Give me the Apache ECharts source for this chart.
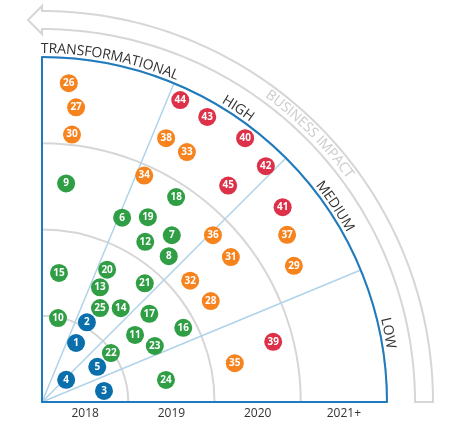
<!DOCTYPE html>
<html><head><meta charset="utf-8">
<script src="https://cdn.jsdelivr.net/npm/echarts@6/dist/echarts.min.js"></script>
<style>html,body{margin:0;padding:0;background:#fff}#c{width:461px;height:435px}</style>
</head><body><div id="c"></div>
<script>
// ---- data ----
const yearLabels = ['2018', '2019', '2020', '2021+'];
const impactLabels = ['LOW', 'MEDIUM', 'HIGH', 'TRANSFORMATIONAL'];
const outerTitle = 'BUSINESS IMPACT';
const pointIds = [1,2,3,4,5,6,7,8,9,10,11,12,13,14,15,16,17,18,19,20,21,22,23,24,25,26,27,28,29,30,31,32,33,34,35,36,37,38,39,40,41,42,43,44,45];
// distance from the corner, in years (0 = start of 2018 band, 4 = end of 2021+ band)
const pointRadius = [0.79,1.06,0.73,0.38,0.76,2.33,2.45,2.24,2.55,0.99,1.33,2.21,1.49,1.42,1.51,1.85,1.61,2.84,2.47,1.71,1.82,0.98,1.46,1.46,1.28,3.71,3.44,2.28,3.32,3.12,2.76,2.22,3.35,2.88,2.28,2.77,3.44,3.38,2.77,3.86,3.59,3.77,3.82,3.85,3.31];
// impact angle in degrees (0 = low edge, 90 = transformational edge)
const pointAngle = [60.0,60.6,10.1,42.5,32.5,66.5,52.1,49.0,83.7,79.2,35.8,57.2,63.2,50.0,82.5,27.7,39.4,56.8,60.2,63.8,49.1,35.4,26.4,10.1,58.3,85.2,83.4,30.9,28.4,83.6,37.5,39.3,59.9,65.7,11.4,44.3,34.3,64.8,14.6,52.4,39.0,46.5,59.9,65.4,49.3];
const pointGroup = [0,0,0,0,0,1,1,1,1,1,1,1,1,1,1,1,1,1,1,1,1,1,1,1,1,2,2,2,2,2,2,2,2,2,2,2,2,2,3,3,3,3,3,3,3];
const groupColors = ['#0b6fac', '#2f9e44', '#f7831f', '#dc3148'];

// ---- layout ----
const CX = 42, CY = 402, R = 345;
const BLUE = '#1f7bbf', LIGHTBLUE = '#b0d3ea', GRAY = '#d6d6d6';

const ctx = document.createElement('canvas').getContext('2d');
function arcText(str, r, centerDeg, font, color, spacing) {
  ctx.font = font;
  const chars = Array.from(str);
  const widths = chars.map(ch => ctx.measureText(ch).width);
  const total = widths.reduce((a, b) => a + b, 0) + spacing * (chars.length - 1);
  const start = centerDeg * Math.PI / 180 + total / r / 2;
  const els = [];
  let acc = 0;
  chars.forEach((ch, i) => {
    const t = start - (acc + widths[i] / 2) / r;
    acc += widths[i] + spacing;
    els.push({
      type: 'text', silent: true,
      x: CX + r * Math.cos(t), y: CY - r * Math.sin(t),
      rotation: t - Math.PI / 2,
      style: { text: ch, font: font, fill: color, align: 'center', verticalAlign: 'middle' }
    });
  });
  return els;
}

// outer arrow band
function bandPoints() {
  const rIn = 373, rOut = 391, pts = [];
  for (let a = 0; a <= 90; a += 1) {
    const t = a * Math.PI / 180;
    pts.push([CX + rOut * Math.cos(t), CY - rOut * Math.sin(t)]);
  }
  pts.push([CX, CY - rOut - 5]);
  pts.push([CX - 14, CY - (rIn + rOut) / 2]);
  pts.push([CX, CY - rIn + 5]);
  for (let a = 90; a >= 0; a -= 1) {
    const t = a * Math.PI / 180;
    pts.push([CX + rIn * Math.cos(t), CY - rIn * Math.sin(t)]);
  }
  return pts;
}

const graphics = [
  { type: 'polygon', silent: true, z: -1, shape: { points: bandPoints() }, style: { fill: '#fff', stroke: GRAY, lineWidth: 2 } }
];
const sectorCenters = [11.25, 33.75, 56.25, 78.75];
impactLabels.forEach((lab, i) => {
  graphics.push(...arcText(lab, 353, sectorCenters[i], '14px "Open Sans"', '#333', 0));
});
graphics.push(...arcText(outerTitle, 382, 45, '14px "Open Sans"', '#cbcbcb', 0));

const series = groupColors.map((col, g) => ({
  type: 'scatter', coordinateSystem: 'polar', polarIndex: 0,
  symbol: 'circle', symbolSize: 18,
  itemStyle: { color: col, opacity: 1 },
  label: { show: true, position: 'inside', color: '#fff', fontSize: 10, fontWeight: 'bold', fontFamily: 'Open Sans',
           formatter: p => String(p.value[2]) },
  z: 5,
  data: pointIds.map((id, i) => ({ i, id })).filter(o => pointGroup[o.i] === g)
        .map(o => [pointRadius[o.i], pointAngle[o.i], o.id])
}));

const chart = echarts.init(document.getElementById('c'), null, { renderer: 'canvas' });
chart.setOption({
  animation: false,
  backgroundColor: '#fff',
  grid: { left: CX, top: CY - R, width: R, height: R },
  xAxis: {
    type: 'category', data: yearLabels, boundaryGap: true,
    axisLine: { lineStyle: { color: BLUE, width: 2 } },
    axisTick: { show: false },
    axisLabel: { color: '#333', fontSize: 12, fontFamily: 'Open Sans', margin: 6 },
    splitLine: { show: false }
  },
  yAxis: {
    type: 'value', min: 0, max: 4,
    axisLine: { show: true, lineStyle: { color: BLUE, width: 2 } },
    axisTick: { show: false }, axisLabel: { show: false }, splitLine: { show: false }
  },
  polar: { center: [CX, CY], radius: R },
  angleAxis: {
    type: 'value', min: 0, max: 90, interval: 22.5,
    startAngle: 0, endAngle: 90, clockwise: false,
    axisLine: { show: true, lineStyle: { color: BLUE, width: 2 } },
    axisTick: { show: false }, axisLabel: { show: false },
    splitLine: { show: true, showMinLine: false, showMaxLine: false, lineStyle: { color: LIGHTBLUE, width: 1.5 } }
  },
  radiusAxis: {
    type: 'value', min: 0, max: 4, interval: 1,
    axisLine: { show: false }, axisTick: { show: false }, axisLabel: { show: false },
    splitLine: { show: true, showMinLine: false, showMaxLine: false, lineStyle: { color: GRAY, width: 2 } }
  },
  graphic: graphics,
  series: series
});
</script></body></html>
